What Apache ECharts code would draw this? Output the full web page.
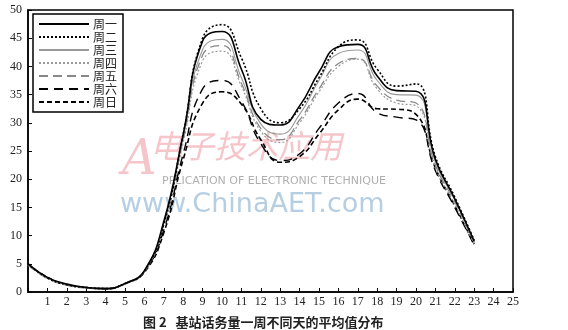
<!DOCTYPE html>
<html>
<head>
<meta charset="utf-8">
<script src="https://cdn.jsdelivr.net/npm/echarts@6/dist/echarts.min.js"></script>
<style>
html,body{margin:0;padding:0;background:#fff;}
#main{width:568px;height:330px;}
</style>
</head>
<body>
<div id="main"></div>
<script>
const hours = [0,1,2,3,4,5,6,7,8,9,10,11,12,13,14,15,16,17,18,19,20,21,22,23];
const seriesNames = ['周一','周二','周三','周四','周五','周六','周日'];
const mon = [5.0,2.6,1.4,0.8,0.6,1.5,3.8,12.5,28.0,44.5,46.2,39.5,30.6,29.6,33.0,39.0,43.5,43.9,38.3,35.7,35.6,23.5,16.5,9.0];
const tue = [5.0,2.5,1.3,0.8,0.6,1.5,3.7,12.0,28.0,45.0,47.4,41.5,32.5,30.0,32.5,38.0,43.5,44.7,39.5,36.5,36.9,24.0,16.8,9.2];
const wed = [4.9,2.5,1.3,0.8,0.6,1.5,3.7,12.2,27.5,43.0,44.8,38.0,29.8,28.0,31.5,37.5,42.3,42.9,37.5,35.0,34.9,23.0,16.3,9.0];
const thu = [4.8,2.4,1.2,0.7,0.5,1.4,3.6,11.8,26.5,41.0,42.7,36.5,28.5,26.5,30.0,35.5,40.0,41.3,36.0,33.5,33.0,22.0,15.5,8.5];
const fri = [4.8,2.4,1.2,0.7,0.5,1.4,3.6,12.0,27.0,42.0,43.7,37.0,29.0,27.0,30.5,36.0,40.5,41.4,36.5,34.0,33.5,22.5,16.0,8.8];
const sat = [4.9,2.5,1.3,0.8,0.6,1.5,3.6,11.0,24.5,36.0,37.5,33.8,26.3,23.3,24.5,29.0,33.5,35.2,31.8,31.0,30.5,21.5,15.0,8.3];
const sun = [5.0,2.6,1.3,0.8,0.6,1.5,3.5,10.5,23.5,33.5,35.5,33.3,27.0,23.0,24.0,28.0,32.3,34.2,32.5,32.4,31.5,22.0,15.3,8.5];
const xTicks = [1,2,3,4,5,6,7,8,9,10,11,12,13,14,15,16,17,18,19,20,21,22,23,24,25];
const yTicks = [0,5,10,15,20,25,30,35,40,45,50];
const caption = '图 2   基站话务量一周不同天的平均值分布';

const values = [mon,tue,wed,thu,fri,sat,sun];
const styles = [
  {color:'#000', width:1.6, type:'solid'},
  {color:'#000', width:1.6, type:[2,2]},
  {color:'#999', width:1.1, type:'solid'},
  {color:'#999', width:1.2, type:[2,2]},
  {color:'#888', width:1.3, type:[9,5]},
  {color:'#000', width:1.4, type:[9,6]},
  {color:'#000', width:1.6, type:[5,3]}
];

const chart = echarts.init(document.getElementById('main'));
chart.setOption({
  animation:false,
  backgroundColor:'#fff',
  grid:{left:28,right:55,top:10,bottom:38,show:true,borderColor:'#000',borderWidth:1.5},
  legend:{
    orient:'vertical', left:33, top:14,
    itemWidth:50, itemHeight:12, itemGap:1,
    padding:[4,6,4,5],
    borderColor:'#000', borderWidth:1.5, backgroundColor:'#fff',
    itemStyle:{opacity:0, color:'rgba(0,0,0,0)', borderWidth:0},
    textStyle:{fontFamily:'Noto Sans CJK SC', fontSize:12, color:'#222', padding:[0,0,0,-1]},
    data:seriesNames
  },
  xAxis:{
    type:'value', min:0, max:25, interval:1,
    axisLine:{lineStyle:{color:'#000',width:1.5}},
    axisTick:{inside:true,length:4,lineStyle:{color:'#000'}},
    splitLine:{show:false},
    axisLabel:{fontFamily:'Liberation Serif',fontSize:12,color:'#222',margin:4,
      formatter:function(v){return xTicks.indexOf(v)>=0?String(v):'';}}
  },
  yAxis:{
    type:'value', min:0, max:50, interval:5,
    axisLine:{lineStyle:{color:'#000',width:1.5}},
    axisTick:{inside:true,length:4,lineStyle:{color:'#000'}},
    splitLine:{show:false},
    axisLabel:{fontFamily:'Liberation Serif',fontSize:12,color:'#222',margin:6,
      formatter:function(v){return yTicks.indexOf(v)>=0?String(v):'';}}
  },
  graphic:[
    {type:'text',left:150,top:130,z:-1,style:{text:'电子技术应用',font:'italic 32px "Noto Sans CJK SC"',fill:'rgba(235,140,150,0.5)'}},
    {type:'text',left:122,top:138,z:-1,style:{text:'A',font:'italic 48px "DejaVu Serif"',fill:'rgba(235,140,150,0.5)'}},
    {type:'text',left:162,top:176,z:-1,style:{text:'PPLICATION OF ELECTRONIC TECHNIQUE',font:'11px "DejaVu Sans"',fill:'rgba(120,120,120,0.6)'}},
    {type:'text',left:120,top:191,z:-1,style:{text:'www.ChinaAET.com',font:'27px "DejaVu Sans"',fill:'rgba(120,165,200,0.55)'}},
    {type:'text',left:143,top:316,style:{text:caption,font:'bold 13px "Noto Sans CJK SC"',fill:'#222'}}
  ],
  series: seriesNames.map(function(n,i){
    return {
      name:n, type:'line', smooth:0.5, symbol:'none',
      data: hours.map(function(h,j){return [h, values[i][j]];}),
      lineStyle:styles[i], itemStyle:{color:styles[i].color}, z:10-i
    };
  })
});
</script>
</body>
</html>
